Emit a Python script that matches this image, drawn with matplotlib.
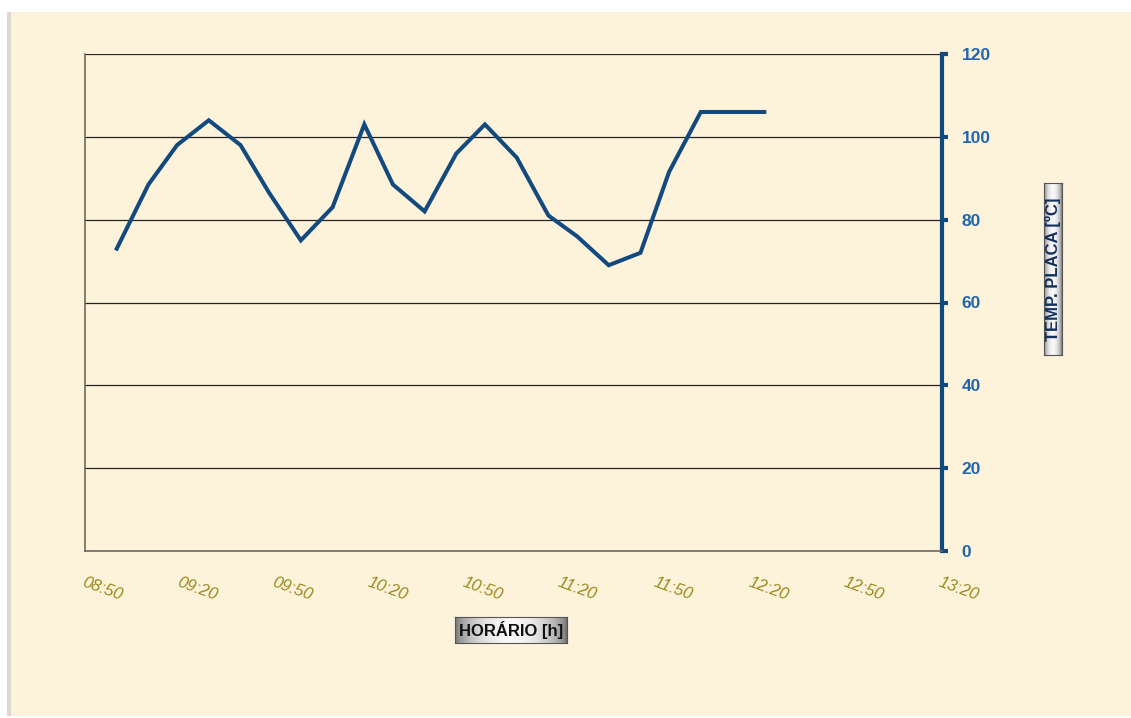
import matplotlib
matplotlib.use("Agg")
import matplotlib.pyplot as plt
import numpy as np
from matplotlib.patches import Rectangle

plt.rcParams['font.family'] = ['Liberation Sans', 'DejaVu Sans']

# Measurement times and plate temperature
times = ["09:00", "09:10", "09:19", "09:29", "09:39", "09:48", "09:58", "10:08",
         "10:18", "10:27", "10:37", "10:47", "10:56", "11:06", "11:16", "11:25",
         "11:35", "11:45", "11:54", "12:04", "12:14", "12:24"]
temp_placa = [73, 88.5, 98, 104, 98, 86.5, 75, 83, 103, 88.5, 82, 96, 103, 95,
              81, 76, 69, 72, 91.5, 106, 106, 106]

x_tick_labels = ["08:50", "09:20", "09:50", "10:20", "10:50", "11:20",
                 "11:50", "12:20", "12:50", "13:20"]
y_ticks = [0, 20, 40, 60, 80, 100, 120]


def to_minutes(s):
    h, m = s.split(":")
    return int(h) * 60 + int(m)


x_vals = [to_minutes(t) for t in times]
x_ticks = [to_minutes(t) for t in x_tick_labels]

W, H = 1131, 718
fig = plt.figure(figsize=(W / 100, H / 100), dpi=100)
fig.patch.set_facecolor("white")

# parchment panel with a soft shadow on the left
fig.add_artist(Rectangle((7 / W, 2 / H), (W - 7) / W, (H - 14) / H,
                         transform=fig.transFigure, facecolor="#dcd8d0",
                         edgecolor="none", zorder=0))
fig.add_artist(Rectangle((11 / W, 2 / H), (W - 11) / W, (H - 14) / H,
                         transform=fig.transFigure, facecolor="#fdf2da",
                         edgecolor="none", zorder=0))

ax = fig.add_axes([85 / W, 1 - 551 / H, (942 - 85) / W, (551 - 54) / H])
ax.set_facecolor("none")

ax.plot(x_vals, temp_placa, color="#124a80", linewidth=2.9,
        solid_joinstyle="miter", zorder=3)

ax.set_xlim(x_ticks[0], x_ticks[-1])
ax.set_ylim(0, 120)

# y axis on the right
ax.yaxis.tick_right()
ax.set_yticks(y_ticks)
ax.set_yticklabels([str(v) for v in y_ticks], color="#1f66ad",
                   fontsize=12.5, fontweight="bold")
ax.tick_params(axis="y", direction="out", length=4, width=3,
               color="#124a80", pad=10)
ax.yaxis.grid(True, color="#222222", linewidth=0.9)
ax.set_axisbelow(True)

ax.set_xticks(x_ticks)
ax.set_xticklabels(x_tick_labels, rotation=-20, ha="left", va="top",
                   rotation_mode="anchor", color="#9a8a1c",
                   fontsize=12, fontstyle="italic")
ax.tick_params(axis="x", length=0, pad=17)

for side in ("left", "bottom"):
    ax.spines[side].set_color("#6e6860")
    ax.spines[side].set_linewidth(1.2)
ax.spines["top"].set_visible(False)
ax.spines["right"].set_color("#124a80")
ax.spines["right"].set_linewidth(3)


def gradient_box(rect, horizontal=True):
    bax = fig.add_axes(rect)
    t = np.linspace(0, 1, 200)
    g = 0.42 + 0.55 * np.sin(np.pi * t) ** 0.6
    img = g[None, :] if horizontal else g[:, None]
    bax.imshow(img, cmap="gray", vmin=0, vmax=1, aspect="auto",
               extent=[0, 1, 0, 1])
    bax.set_xticks([])
    bax.set_yticks([])
    for s in bax.spines.values():
        s.set_color("#555555")
        s.set_linewidth(0.8)
    return bax


xb = gradient_box([455 / W, 1 - 643 / H, (567 - 455) / W, (643 - 617) / H])
xb.text(0.5, 0.5, "HORÁRIO [h]", ha="center", va="center",
        fontsize=12, fontweight="bold", color="#111111",
        transform=xb.transAxes)

yb = gradient_box([1044 / W, 1 - 355 / H, (1062 - 1044) / W, (355 - 183) / H],
                  horizontal=True)
yb.text(0.5, 0.5, "TEMP. PLACA [ºC]", ha="center", va="center", rotation=90,
        fontsize=12, fontweight="bold", color="#12305a",
        transform=yb.transAxes)

fig.savefig("out.png", dpi=100, facecolor=fig.get_facecolor())
